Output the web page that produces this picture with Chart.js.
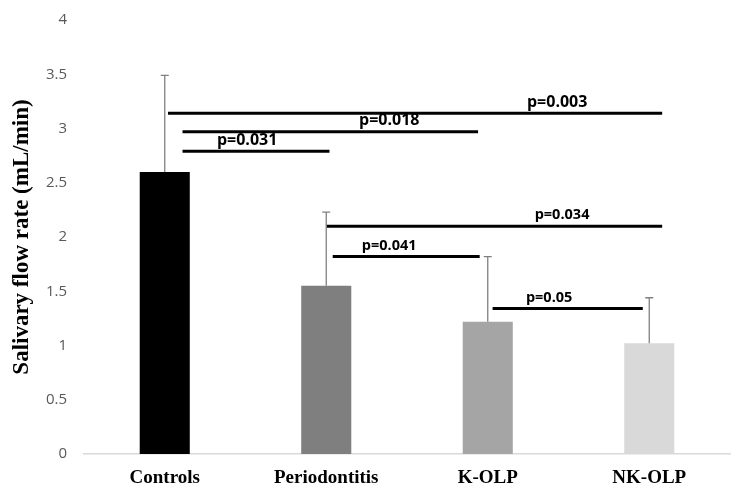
<!DOCTYPE html>
<html>
<head>
<meta charset="utf-8">
<script src="https://cdn.jsdelivr.net/npm/chart.js@4"></script>
<style>
  html, body { margin: 0; padding: 0; background: #fff; }
  #wrap { width: 750px; height: 500px; }
</style>
</head>
<body>
<div id="wrap"><canvas id="flow"></canvas></div>
<script>
const categories = ['Controls', 'Periodontitis', 'K-OLP', 'NK-OLP'];
const means = [2.6, 1.55, 1.22, 1.02];
const sd = [0.89, 0.68, 0.6, 0.42];
const barColors = ['#000000', '#7f7f7f', '#a5a5a5', '#d9d9d9'];

// significance brackets: label, level (y units), from/to (category index units)
const pLabels = ['p=0.003', 'p=0.018', 'p=0.031', 'p=0.034', 'p=0.041', 'p=0.05'];
const pLevels = [3.14, 2.97, 2.79, 2.1, 1.82, 1.34];
const pFrom = [0.02, 0.11, 0.11, 1.0, 1.04, 2.03];
const pTo = [3.08, 1.94, 1.02, 3.08, 1.95, 2.96];
const pLabelAt = [2.43, 1.39, 0.51, 2.46, 1.39, 2.38];

var sigSets = pLabels.map(function(lbl, i) {
  return {
    type: 'line',
    label: lbl,
    xAxisID: 'xs',
    data: [{x: pFrom[i], y: pLevels[i]}, {x: pTo[i], y: pLevels[i]}],
    borderColor: '#000',
    borderWidth: 3,
    borderCapStyle: 'butt',
    pointRadius: 0,
    fill: false
  };
});

const errorBars = {
  id: 'errorBars',
  afterDatasetsDraw(chart) {
    const ctx = chart.ctx;
    const y = chart.scales.y;
    const meta = chart.getDatasetMeta(0);
    ctx.save();
    ctx.strokeStyle = '#808080';
    ctx.lineWidth = 1.3;
    meta.data.forEach(function(bar, i) {
      var top = y.getPixelForValue(means[i] + sd[i]);
      ctx.beginPath();
      ctx.moveTo(bar.x, bar.y);
      ctx.lineTo(bar.x, top);
      ctx.moveTo(bar.x - 4, top);
      ctx.lineTo(bar.x + 4, top);
      ctx.stroke();
    });
    ctx.restore();
  }
};

const pText = {
  id: 'pText',
  afterDatasetsDraw(chart) {
    const ctx = chart.ctx;
    const xs = chart.scales.xs;
    const y = chart.scales.y;
    ctx.save();
    ctx.fillStyle = '#000';
    ctx.textAlign = 'center';
    ctx.textBaseline = 'middle';
    for (var i = 0; i < pLabels.length; i++) {
      ctx.font = 'bold ' + (i < 3 ? 16 : 14.5) + 'px "Open Sans"';
      ctx.fillText(pLabels[i], xs.getPixelForValue(pLabelAt[i]), y.getPixelForValue(pLevels[i]) - 11);
    }
    ctx.restore();
  }
};

new Chart(document.getElementById('flow').getContext('2d'), {
  type: 'bar',
  data: {
    labels: categories,
    datasets: [{
      label: 'Salivary flow rate',
      data: means,
      backgroundColor: barColors,
      borderWidth: 0,
      grouped: false,
      categoryPercentage: 1,
      barPercentage: 0.31
    }].concat(sigSets)
  },
  options: {
    responsive: true,
    maintainAspectRatio: false,
    animation: false,
    layout: { padding: { top: 20, right: 20, bottom: 0, left: 0 } },
    plugins: { legend: { display: false }, tooltip: { enabled: false } },
    scales: {
      x: {
        type: 'category',
        grid: { display: false, drawTicks: false },
        border: { display: true, color: '#d9d9d9', width: 1.5 },
        ticks: { color: '#000', padding: 13, font: { family: 'Liberation Serif', size: 19, weight: 'bold' } },
        afterFit: function(scale) { scale.height = 46; }
      },
      xs: {
        type: 'linear',
        display: false,
        offset: false,
        min: -0.5,
        max: 3.5
      },
      y: {
        min: 0,
        max: 4,
        ticks: {
          stepSize: 0.5,
          color: '#595959',
          padding: 17,
          font: { family: 'Open Sans', size: 15 },
          callback: function(v) { return String(v); }
        },
        grid: { display: false, drawTicks: false },
        border: { display: false },
        title: {
          display: true,
          text: 'Salivary flow rate (mL/min)',
          color: '#000',
          padding: { top: 8, bottom: 0 },
          font: { family: 'Liberation Serif', size: 23, weight: 'bold' }
        },
        afterFit: function(scale) {
          scale.width = 84;
          scale.paddingTop = 0; // tick padding would otherwise push the plot down
          scale.paddingBottom = 0;
        }
      }
    }
  },
  plugins: [errorBars, pText]
});
</script>
</body>
</html>
